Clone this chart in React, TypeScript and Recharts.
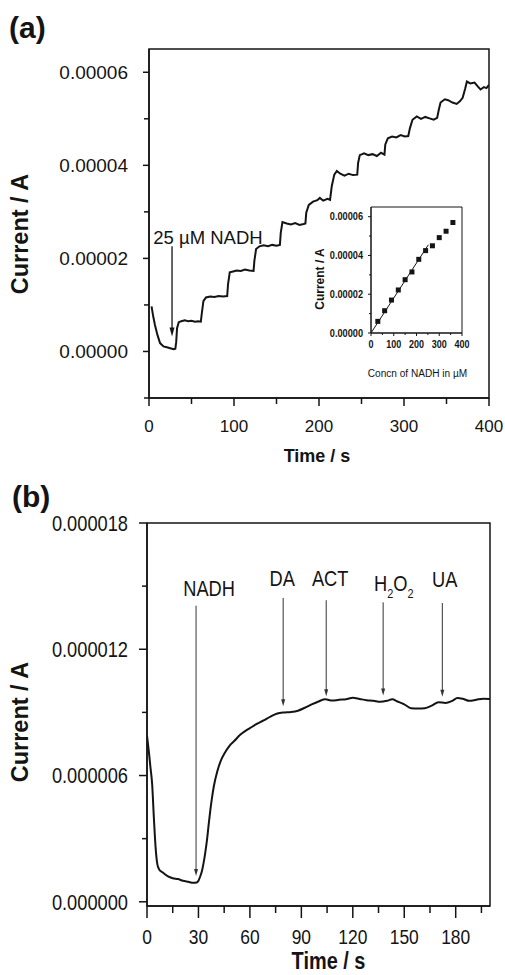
import React from "react";
import {
  ComposedChart,
  Line,
  Scatter,
  XAxis,
  YAxis,
  ReferenceArea,
  ReferenceLine,
  ReferenceDot,
} from "recharts";

const SANS = '"Liberation Sans", Arial, Helvetica, sans-serif';
const INK = "#141414";
// panel (b) was set in a condensed face; no narrow font here, so squeeze horizontally
const SQUEEZE_B = 0.83;

// (a) amperometric i-t trace, successive 25 µM NADH additions
const timeA = [
  3, 5, 7, 10, 13, 17, 21, 25, 29, 31, 32, 33, 35, 38, 42, 46, 50, 54, 58, 61,
  62, 64, 67, 72, 77, 82, 87, 92, 93, 95, 99, 103, 108, 113, 118, 123, 124, 126,
  130, 135, 140, 145, 150, 154, 155, 157, 162, 167, 172, 177, 182, 184, 185, 188,
  193, 198, 201, 205, 210, 213, 215, 218, 221, 225, 230, 235, 240, 245, 246, 248,
  253, 258, 263, 268, 273, 277, 278, 281, 286, 291, 296, 301, 305, 307, 310, 315,
  320, 325, 330, 335, 339, 341, 343, 348, 352, 357, 362, 366, 369, 372, 374, 378,
  383, 387, 390, 394, 397, 400,
];
const currentA = [
  9.7e-6, 7.5e-6, 5.7e-6, 3.5e-6, 1.8e-6, 1.1e-6, 0.9e-6, 0.7e-6, 0.5e-6, 0.6e-6,
  2.0e-6, 5.0e-6, 6.3e-6, 6.5e-6, 6.7e-6, 6.5e-6, 6.6e-6, 6.4e-6, 6.5e-6, 6.4e-6,
  8.0e-6, 10.8e-6, 11.6e-6, 11.8e-6, 11.7e-6, 11.9e-6, 11.8e-6, 11.9e-6, 14.5e-6, 17.0e-6,
  17.2e-6, 17.4e-6, 17.3e-6, 17.6e-6, 17.4e-6, 17.3e-6, 19.5e-6, 22.0e-6, 22.6e-6, 22.8e-6,
  22.6e-6, 22.9e-6, 22.7e-6, 22.9e-6, 25.5e-6, 27.8e-6, 27.5e-6, 27.3e-6, 27.6e-6, 27.2e-6,
  27.4e-6, 27.5e-6, 29.8e-6, 31.5e-6, 32.2e-6, 32.5e-6, 33.0e-6, 32.4e-6, 32.8e-6, 32.6e-6,
  35.5e-6, 38.0e-6, 38.8e-6, 38.2e-6, 37.8e-6, 38.2e-6, 37.9e-6, 38.0e-6, 40.5e-6, 42.2e-6,
  42.6e-6, 42.2e-6, 42.4e-6, 42.0e-6, 42.7e-6, 42.3e-6, 44.5e-6, 45.8e-6, 46.2e-6, 46.0e-6,
  46.5e-6, 46.2e-6, 46.3e-6, 48.0e-6, 49.8e-6, 50.5e-6, 50.0e-6, 50.4e-6, 50.1e-6, 49.8e-6,
  50.2e-6, 52.0e-6, 53.5e-6, 54.2e-6, 54.0e-6, 53.5e-6, 53.2e-6, 53.8e-6, 54.5e-6, 56.5e-6,
  58.0e-6, 57.6e-6, 57.8e-6, 56.9e-6, 56.3e-6, 56.8e-6, 56.6e-6, 57.3e-6,
];
const xTicksA = [0, 50, 100, 150, 200, 250, 300, 350, 400];
const xTickLabelsA = ["0", "", "100", "", "200", "", "300", "", "400"];
const yTicksA = [-0.00001, 0, 0.00001, 0.00002, 0.00003, 0.00004, 0.00005, 0.00006];
const yTickLabelsA = ["", "0.00000", "", "0.00002", "", "0.00004", "", "0.00006"];

// arrow marking the first addition
const additionLabelA = "25 µM NADH";
const additionTimeA = 27.1;
const arrowTopA = 2.26e-5;
const arrowTipA = 3.2e-6;
const labelAtA = { t: 69.4, i: 2.3e-5 };

// (a) inset: calibration plot
const concInset = [30, 60, 90, 120, 150, 180, 210, 240, 270, 300, 330, 360];
const currentInset = [
  6.0e-6, 11.5e-6, 17.0e-6, 22.2e-6, 27.5e-6, 31.5e-6, 38.0e-6, 42.5e-6, 45.0e-6,
  49.2e-6, 52.5e-6, 57.0e-6,
];
const fitConc = [0, 252];
const fitCurrent = [0, 4.55e-5];
const xTicksInset = [0, 50, 100, 150, 200, 250, 300, 350, 400];
const xTickLabelsInset = ["0", "", "100", "", "200", "", "300", "", "400"];
const yTicksInset = [0, 0.00001, 0.00002, 0.00003, 0.00004, 0.00005, 0.00006];
const yTickLabelsInset = ["0.00000", "", "0.00002", "", "0.00004", "", "0.00006"];

// (b) interference test
const timeB = [
  0, 1, 2, 3, 4, 5, 6, 7, 9, 12, 15, 18, 21, 24, 27, 29, 30, 31, 32, 33, 34, 35,
  36, 37, 38, 39, 41, 43, 45.5, 48, 51, 54.5, 57, 60, 64, 68, 72, 76, 80, 84, 88,
  92, 96, 100, 104, 108, 112, 116, 120, 124, 128, 132, 136, 140, 143, 146, 150,
  154, 158, 162, 166, 170, 174, 178, 181, 184, 188, 192, 196, 200,
];
const currentB = [
  7.9e-6, 7.2e-6, 6.4e-6, 5.6e-6, 4.0e-6, 2.6e-6, 1.8e-6, 1.55e-6, 1.4e-6, 1.22e-6,
  1.12e-6, 1.08e-6, 1.0e-6, 0.95e-6, 0.9e-6, 0.92e-6, 1.0e-6, 1.2e-6, 1.45e-6, 1.85e-6,
  2.35e-6, 2.95e-6, 3.7e-6, 4.4e-6, 5.0e-6, 5.5e-6, 6.2e-6, 6.7e-6, 7.1e-6, 7.4e-6,
  7.65e-6, 7.95e-6, 8.1e-6, 8.25e-6, 8.45e-6, 8.62e-6, 8.8e-6, 8.95e-6, 9.0e-6, 9.02e-6,
  9.08e-6, 9.22e-6, 9.38e-6, 9.52e-6, 9.62e-6, 9.56e-6, 9.6e-6, 9.62e-6, 9.7e-6, 9.64e-6,
  9.58e-6, 9.55e-6, 9.5e-6, 9.55e-6, 9.62e-6, 9.52e-6, 9.38e-6, 9.2e-6, 9.18e-6, 9.2e-6,
  9.32e-6, 9.48e-6, 9.45e-6, 9.55e-6, 9.68e-6, 9.65e-6, 9.55e-6, 9.6e-6, 9.65e-6, 9.64e-6,
];
const xTicksB = [0, 15, 30, 45, 60, 75, 90, 105, 120, 135, 150, 165, 180, 195];
const xTickLabelsB = ["0", "", "30", "", "60", "", "90", "", "120", "", "150", "", "180", ""];
const yTicksB = [0, 0.000003, 0.000006, 0.000009, 0.000012, 0.000015, 0.000018];
const yTickLabelsB = ["0.000000", "", "0.000006", "", "0.000012", "", "0.000018"];

const speciesB = ["NADH", "DA", "ACT", "H2O2", "UA"];
const addTimeB = [28.6, 79.4, 104.5, 137.7, 172.2];
const arrowTopB = [1.407e-5, 1.444e-5, 1.433e-5, 1.423e-5, 1.42e-5];
const arrowTipB = [1.22e-6, 9.29e-6, 9.77e-6, 9.8e-6, 9.74e-6];
const labelTimeB = [36.2, 78.8, 106.8, 143.9, 173.6];
const labelCurrentB = [1.454e-5, 1.501e-5, 1.501e-5, 1.477e-5, 1.496e-5];

const traceA = timeA.map((t, k) => ({ t, i: currentA[k] }));
const insetPoints = concInset.map((c, k) => ({ c, i: currentInset[k] }));
const insetFit = fitConc.map((c, k) => ({ c, i: fitCurrent[k] }));
const traceB = timeB.map((t, k) => ({ t, i: currentB[k] }));

interface TickSpec {
  values: number[];
  labels: string[];
  side: "left" | "bottom";
  gap: number;
  major: number;
  minor: number;
  size: number;
  weight?: number;
  stroke?: number;
  squeeze?: number;
}

// draws its own tick mark so major/minor can differ in length
function tickRenderer(spec: TickSpec) {
  return (props: any) => {
    const { x, y, payload } = props;
    const k = spec.values.findIndex((v) => Math.abs(v - payload.value) < 1e-12);
    const text = k >= 0 ? spec.labels[k] : "";
    const len = text ? spec.major : spec.minor;
    const sw = spec.stroke ?? 1.5;
    const sq = spec.squeeze ?? 1;
    const style = {
      fontFamily: SANS,
      fontSize: spec.size,
      fontWeight: spec.weight ?? 400,
      fill: INK,
    };
    if (spec.side === "left") {
      const ax = x + spec.gap;
      return (
        <g>
          <line x1={ax} x2={ax - len} y1={y} y2={y} stroke={INK} strokeWidth={sw} />
          {text ? (
            <text transform={`translate(${x},${y}) scale(${sq},1)`} dy="0.36em" textAnchor="end" style={style}>
              {text}
            </text>
          ) : null}
        </g>
      );
    }
    const ay = y - spec.gap;
    return (
      <g>
        <line x1={x} x2={x} y1={ay} y2={ay + len} stroke={INK} strokeWidth={sw} />
        {text ? (
          <text transform={`translate(${x},${y}) scale(${sq},1)`} dy="0.72em" textAnchor="middle" style={style}>
            {text}
          </text>
        ) : null}
      </g>
    );
  };
}

function xTitle(text: string, dx: number, dy: number, size: number, weight: number, sq = 1) {
  return {
    content: (p: any) => {
      const vb = p.viewBox;
      const cx = vb.x + vb.width / 2 + dx;
      return (
        <text
          transform={`translate(${cx},${vb.y + dy}) scale(${sq},1)`}
          textAnchor="middle"
          style={{ fontFamily: SANS, fontSize: size, fontWeight: weight, fill: INK }}
        >
          {text}
        </text>
      );
    },
  };
}

function yTitle(text: string, bx: number, dy: number, size: number, weight: number) {
  return {
    content: (p: any) => {
      const vb = p.viewBox;
      const cx = vb.x + bx;
      const cy = vb.y + vb.height / 2 + dy;
      return (
        <text
          transform={`translate(${cx},${cy}) rotate(-90)`}
          textAnchor="middle"
          style={{ fontFamily: SANS, fontSize: size, fontWeight: weight, fill: INK }}
        >
          {text}
        </text>
      );
    },
  };
}

function arrowShape(headW: number, headH: number, width: number, color: string) {
  return (p: any) => {
    const x = p.x1;
    const top = Math.min(p.y1, p.y2);
    const tip = Math.max(p.y1, p.y2);
    return (
      <g>
        <line x1={x} x2={x} y1={top} y2={tip - headH + 1} stroke={color} strokeWidth={width} />
        <path
          d={`M${x - headW / 2},${tip - headH} L${x},${tip} L${x + headW / 2},${tip - headH} Z`}
          fill={color}
        />
      </g>
    );
  };
}

function plainLabel(text: string, size: number, weight = 400) {
  return (p: any) => (
    <text
      x={p.cx}
      y={p.cy}
      textAnchor="middle"
      style={{ fontFamily: SANS, fontSize: size, fontWeight: weight, fill: INK }}
    >
      {text}
    </text>
  );
}

// species label with digits set as subscripts (H2O2)
function chemLabel(name: string, size: number, sq: number) {
  return (p: any) => {
    const parts = name.split(/(\d)/).filter(Boolean);
    let low = false;
    const spans = parts.map((part, k) => {
      const isSub = /^\d$/.test(part);
      let dy = 0;
      if (isSub && !low) dy = 7;
      if (!isSub && low) dy = -7;
      low = isSub;
      return (
        <tspan key={k} dy={dy} style={{ fontSize: isSub ? size * 0.6 : size }}>
          {part}
        </tspan>
      );
    });
    return (
      <text
        transform={`translate(${p.cx},${p.cy}) scale(${sq},1)`}
        textAnchor="middle"
        style={{ fontFamily: SANS, fontSize: size, fill: INK }}
      >
        {spans}
      </text>
    );
  };
}

function squareShape(p: any) {
  return <rect x={p.cx - 2.5} y={p.cy - 2.5} width={5} height={5} fill={INK} />;
}

const axisLine = { stroke: INK, strokeWidth: 1.5 };

function PanelA() {
  return (
    <ComposedChart width={505} height={470} data={traceA} margin={{ top: 49, right: 16, bottom: 0, left: 0 }}>
      <XAxis
        dataKey="t"
        type="number"
        domain={[0, 400]}
        ticks={xTicksA}
        interval={0}
        allowDataOverflow
        height={72}
        axisLine={axisLine}
        tickLine={false}
        tickSize={0}
        tickMargin={22}
        tick={tickRenderer({
          values: xTicksA, labels: xTickLabelsA, side: "bottom", gap: 22,
          major: 8, minor: 6, size: 17,
        })}
        label={xTitle("Time / s", -2, 64, 18, 700)}
      />
      <YAxis
        type="number"
        domain={[-0.00001, 0.000065]}
        ticks={yTicksA}
        interval={0}
        allowDataOverflow
        width={149}
        axisLine={axisLine}
        tickLine={false}
        tickSize={0}
        tickMargin={21}
        tick={tickRenderer({
          values: yTicksA, labels: yTickLabelsA, side: "left", gap: 21,
          major: 6, minor: 5, size: 19,
        })}
        label={yTitle("Current / A", 28, 10.5, 23.5, 700)}
      />
      <ReferenceArea x1={0} x2={400} y1={-0.00001} y2={0.000065} fill="none" stroke={INK} strokeWidth={1.5} />
      <Line dataKey="i" type="linear" stroke={INK} strokeWidth={2} dot={false} isAnimationActive={false} />
      <ReferenceLine
        segment={[
          { x: additionTimeA, y: arrowTopA },
          { x: additionTimeA, y: arrowTipA },
        ]}
        shape={arrowShape(5, 9, 1.3, INK)}
      />
      <ReferenceDot x={labelAtA.t} y={labelAtA.i} r={0} shape={plainLabel(additionLabelA, 18.5)} />
    </ComposedChart>
  );
}

function Inset() {
  return (
    <ComposedChart width={210} height={190} margin={{ top: 12, right: 38, bottom: 0, left: 0 }}>
      <XAxis
        dataKey="c"
        type="number"
        domain={[0, 400]}
        ticks={xTicksInset}
        interval={0}
        allowDataOverflow
        height={52}
        axisLine={{ stroke: INK, strokeWidth: 1 }}
        tickLine={false}
        tickSize={0}
        tickMargin={8}
        tick={tickRenderer({
          values: xTicksInset, labels: xTickLabelsInset, side: "bottom", gap: 8,
          major: 3, minor: 2, size: 10, weight: 700, stroke: 1, squeeze: 0.9,
        })}
        label={xTitle("Concn of NADH in µM", 1, 44, 11, 400, 0.92)}
      />
      <YAxis
        type="number"
        domain={[0, 0.000065]}
        ticks={yTicksInset}
        interval={0}
        allowDataOverflow
        width={81}
        axisLine={{ stroke: INK, strokeWidth: 1 }}
        tickLine={false}
        tickSize={0}
        tickMargin={8}
        tick={tickRenderer({
          values: yTicksInset, labels: yTickLabelsInset, side: "left", gap: 8,
          major: 3, minor: 2, size: 10, weight: 700, stroke: 1, squeeze: 0.92,
        })}
        label={yTitle("Current / A", 34, 9, 12, 700)}
      />
      <ReferenceArea x1={0} x2={400} y1={0} y2={0.000065} fill="none" stroke={INK} strokeWidth={1} />
      <Line data={insetFit} dataKey="i" type="linear" stroke={INK} strokeWidth={1} dot={false} isAnimationActive={false} />
      <Scatter data={insetPoints} dataKey="i" shape={squareShape} isAnimationActive={false} />
    </ComposedChart>
  );
}

function PanelB() {
  return (
    <ComposedChart width={505} height={495} data={traceB} margin={{ top: 43, right: 15, bottom: 0, left: 0 }}>
      <XAxis
        dataKey="t"
        type="number"
        domain={[0, 200]}
        ticks={xTicksB}
        interval={0}
        allowDataOverflow
        height={69}
        axisLine={axisLine}
        tickLine={false}
        tickSize={0}
        tickMargin={23}
        tick={tickRenderer({
          values: xTicksB, labels: xTickLabelsB, side: "bottom", gap: 23,
          major: 12, minor: 7, size: 21, squeeze: SQUEEZE_B,
        })}
        label={xTitle("Time / s", 10, 63, 24, 700, SQUEEZE_B)}
      />
      <YAxis
        type="number"
        domain={[-0.0000002, 0.000018]}
        ticks={yTicksB}
        interval={0}
        allowDataOverflow
        width={147}
        axisLine={axisLine}
        tickLine={false}
        tickSize={0}
        tickMargin={19}
        tick={tickRenderer({
          values: yTicksB, labels: yTickLabelsB, side: "left", gap: 19,
          major: 8, minor: 5, size: 22, squeeze: SQUEEZE_B,
        })}
        label={yTitle("Current / A", 28, 7.5, 23.5, 700)}
      />
      <ReferenceArea x1={0} x2={200} y1={-0.0000002} y2={0.000018} fill="none" stroke={INK} strokeWidth={1.5} />
      <Line dataKey="i" type="monotone" stroke={INK} strokeWidth={2} dot={false} isAnimationActive={false} />
      {speciesB.map((name, k) => (
        <ReferenceLine
          key={`arrow-${name}`}
          segment={[
            { x: addTimeB[k], y: arrowTopB[k] },
            { x: addTimeB[k], y: arrowTipB[k] },
          ]}
          shape={arrowShape(4, 7, 1, "#333")}
        />
      ))}
      {speciesB.map((name, k) => (
        <ReferenceDot
          key={`label-${name}`}
          x={labelTimeB[k]}
          y={labelCurrentB[k]}
          r={0}
          shape={chemLabel(name, 22, SQUEEZE_B)}
        />
      ))}
    </ComposedChart>
  );
}

export default function App() {
  const tag = { position: "absolute" as const, fontFamily: SANS, fontWeight: 700, fontSize: 30, lineHeight: "30px", color: INK };
  return (
    <div style={{ position: "absolute", left: 0, top: 0, width: 505, height: 975, background: "#fff" }}>
      <div style={{ position: "absolute", left: 0, top: 0 }}>
        <PanelA />
      </div>
      <div style={{ position: "absolute", left: 290, top: 195 }}>
        <Inset />
      </div>
      <div style={{ position: "absolute", left: 0, top: 480 }}>
        <PanelB />
      </div>
      <div style={{ ...tag, left: 9, top: 13 }}>(a)</div>
      <div style={{ ...tag, left: 12, top: 482 }}>(b)</div>
    </div>
  );
}
